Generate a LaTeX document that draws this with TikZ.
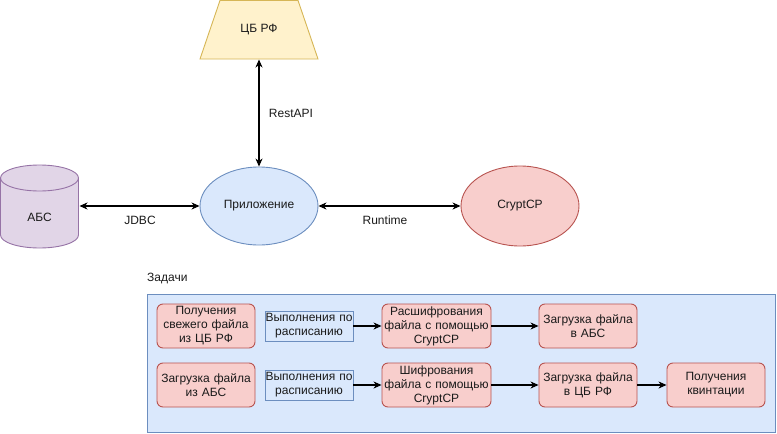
\documentclass[tikz,border=0pt]{standalone}
\usepackage{fontspec}
\setmainfont{Liberation Sans}
\usetikzlibrary{shapes.geometric,arrows.meta}
\definecolor{yfill}{HTML}{FFF2CC}
\definecolor{ydraw}{HTML}{D6B656}
\definecolor{pfill}{HTML}{E1D5E7}
\definecolor{pdraw}{HTML}{9673A6}
\definecolor{bfill}{HTML}{DAE8FC}
\definecolor{bdraw}{HTML}{6C8EBF}
\definecolor{rfill}{HTML}{F8CECC}
\definecolor{rdraw}{HTML}{B85450}
\definecolor{txt}{HTML}{1A1A1A}
\tikzset{
  lbl/.style={font=\fontsize{12}{14}\selectfont, text=txt, inner sep=0pt},
  taskbox/.style={draw=rdraw, fill=rfill, rounded corners=6pt, minimum width=98pt, minimum height=44pt, text width=94pt, align=center, inner sep=0pt, font=\fontsize{12}{14}\selectfont, text=txt, line width=0.9pt},
  schedbox/.style={draw=bdraw, fill=bfill, minimum width=88pt, minimum height=30pt, text width=88pt, align=center, inner sep=0pt, font=\fontsize{12}{14}\selectfont, text=txt, line width=0.9pt},
  conn/.style={line width=1.1pt, -{Stealth[length=8pt,width=7pt,inset=2.5pt]}},
  bconn/.style={line width=1.1pt, {Stealth[length=8pt,width=7pt,inset=2.5pt]}-{Stealth[length=8pt,width=7pt,inset=2.5pt]}},
}
\begin{document}
\begin{tikzpicture}[x=1pt,y=-1pt]
\useasboundingbox (0,0) rectangle (777,434);
% Trapezoid CB RF
\draw[draw=ydraw, fill=yfill, line width=0.9pt] (220,0.4) -- (298,0.4) -- (318,59) -- (200,59) -- cycle;
\node[lbl] (cb) at (259,29.5) {ЦБ РФ};
\coordinate (cbB) at (259,59.5);
% Application ellipse
\node[ellipse, draw=bdraw, fill=bfill, minimum width=118pt, minimum height=78pt, inner sep=0pt, line width=0.9pt,
      font=\fontsize{12}{14}\selectfont, text=txt] (app) at (259,206) {Приложение};
% CryptCP ellipse
\node[ellipse, draw=rdraw, fill=rfill, minimum width=118pt, minimum height=80pt, inner sep=0pt, line width=0.9pt,
      font=\fontsize{12}{14}\selectfont, text=txt] (crypt) at (520,206) {CryptCP};
% ABS cylinder
\fill[pfill] (0.5,178) -- (0.5,235) arc[start angle=180, end angle=360, x radius=39pt, y radius=13pt] -- (78.5,178)
  arc[start angle=0, end angle=180, x radius=39pt, y radius=13pt] -- cycle;
\draw[pdraw, line width=0.9pt] (0.5,178) -- (0.5,235) arc[start angle=180, end angle=360, x radius=39pt, y radius=13pt] -- (78.5,178)
  arc[start angle=0, end angle=180, x radius=39pt, y radius=13pt];
\draw[pdraw, line width=0.9pt] (0.5,178) arc[start angle=180, end angle=0, x radius=39pt, y radius=-13pt];
\node[lbl] (abs) at (39.5,217) {АБС};
\coordinate (absR) at (79.5,206);
% connectors top
\draw[bconn] (cbB) -- (app.north);
\node[lbl] (lrest) at (291,113) {RestAPI};
\draw[bconn] (absR) -- (app.west);
\node[lbl] (ljdbc) at (140,220) {JDBC};
\draw[bconn] (app.east) -- (crypt.west);
\node[lbl] (lrun) at (385,220) {Runtime};
% Tasks
\node[lbl, anchor=west] (ztitle) at (147,279) {Задачи};
\node[draw=bdraw, fill=bfill, minimum width=628pt, minimum height=138pt, inner sep=0pt, line width=0.9pt] (tasks) at (461,363) {};
% row 1
\node[taskbox] (t11) at (206,326) {Получения\\свежего файла\\из ЦБ РФ};
\node[schedbox] (s1) at (309,326) {Выполнения по\\расписанию};
\node[taskbox, minimum width=109pt, text width=105pt] (t12) at (436.5,326) {Расшифрования\\файла с помощью\\CryptCP};
\node[taskbox] (t13) at (588,326) {Загрузка файла\\в АБС};
% row 2
\node[taskbox] (t21) at (206,385) {Загрузка файла\\из АБС};
\node[schedbox] (s2) at (309,385) {Выполнения по\\расписанию};
\node[taskbox, minimum width=109pt, text width=105pt] (t22) at (436.5,385) {Шифрования\\файла с помощью\\CryptCP};
\node[taskbox] (t23) at (588,385) {Загрузка файла\\в ЦБ РФ};
\node[taskbox] (t24) at (716,385) {Получения\\квинтации};
% arrows
\draw[conn] (s1) -- (t12);
\draw[conn] (t12) -- (t13);
\draw[conn] (s2) -- (t22);
\draw[conn] (t22) -- (t23);
\draw[conn] (t23) -- (t24);
\end{tikzpicture}
\end{document}
